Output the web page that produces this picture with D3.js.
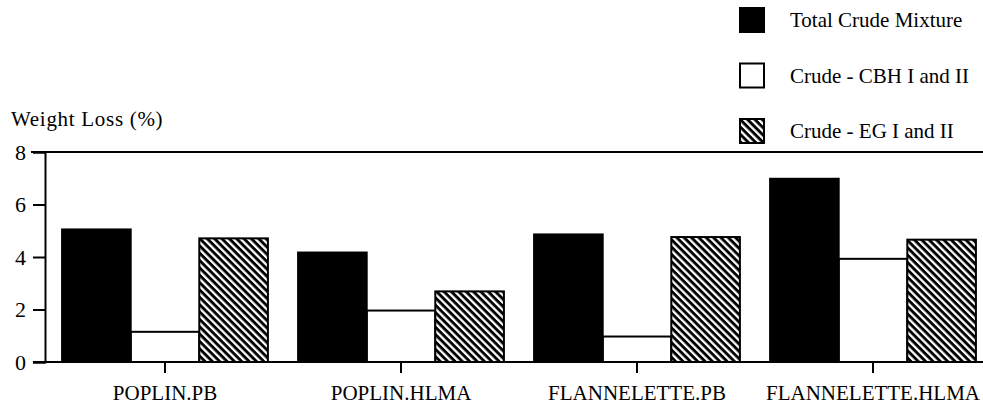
<!DOCTYPE html>
<html>
<head>
<meta charset="utf-8">
<script src="https://cdn.jsdelivr.net/npm/d3@7"></script>
<style>
  html, body { margin: 0; padding: 0; background: #fff; }
  svg { display: block; }
  text { font-family: "Liberation Serif", "Times New Roman", serif; fill: #000; }
</style>
</head>
<body>
<svg id="chart" width="983" height="405"></svg>
<script>
const categories = ["POPLIN.PB", "POPLIN.HLMA", "FLANNELETTE.PB", "FLANNELETTE.HLMA"];
const seriesNames = ["Total Crude Mixture", "Crude - CBH I and II", "Crude - EG I and II"];
const totalCrude = [5.05, 4.17, 4.86, 6.98];
const crudeCBH = [1.15, 1.96, 0.97, 3.93];
const crudeEG = [4.71, 2.69, 4.76, 4.66];
const yTicks = [0, 2, 4, 6, 8];
const yLabel = "Weight Loss (%)";

const svg = d3.select("#chart");
const W = 983;

const defs = svg.append("defs");
const pat = defs.append("pattern")
  .attr("id", "hatch")
  .attr("patternUnits", "userSpaceOnUse")
  .attr("width", 5.2).attr("height", 5.2)
  .attr("patternTransform", "rotate(45)");
pat.append("rect").attr("width", 5.2).attr("height", 5.2).attr("fill", "#fff");
pat.append("rect").attr("width", 5.2).attr("height", 2.9).attr("fill", "#000");

const x = d3.scaleBand().domain(categories).range([47, 991]).padding(0);
const xs = d3.scaleBand().domain(seriesNames).range([0, x.bandwidth()])
  .paddingInner(0).paddingOuter(0.22);
const y = d3.scaleLinear().domain([0, 8]).range([362, 152]);

const valuesBySeries = [totalCrude, crudeCBH, crudeEG];
const fills = ["#000", "#fff", "url(#hatch)"];
const data = [];
seriesNames.forEach((s, si) => {
  categories.forEach((c, ci) => {
    data.push({ s, si, c, v: valuesBySeries[si][ci] });
  });
});

// top frame line
svg.append("line")
  .attr("x1", 31).attr("x2", W).attr("y1", y(8)).attr("y2", y(8))
  .attr("stroke", "#000").attr("stroke-width", 2);

// bars: white first, then black and hatched on top
const order = [1, 0, 2];
order.forEach(si => {
  svg.append("g").selectAll("rect")
    .data(data.filter(d => d.si === si))
    .join("rect")
    .attr("x", d => x(d.c) + xs(d.s))
    .attr("y", d => y(d.v))
    .attr("width", xs.bandwidth())
    .attr("height", d => y(0) - y(d.v))
    .attr("fill", fills[si])
    .attr("stroke", "#000")
    .attr("stroke-width", 2);
});

// y axis
const yAxis = svg.append("g")
  .attr("transform", "translate(45,0)")
  .call(d3.axisLeft(y).tickValues(yTicks).tickSize(12).tickPadding(8).tickFormat(d3.format("d")));
yAxis.attr("font-family", null);
yAxis.select(".domain").attr("stroke", "#000").attr("stroke-width", 2);
yAxis.selectAll(".tick line").attr("stroke", "#000").attr("stroke-width", 2);
yAxis.selectAll(".tick text")
  .attr("font-family", "Liberation Serif").attr("font-size", 22).attr("fill", "#000")
  .attr("x", -19).attr("dy", "0.34em");

// x axis
const xAxis = svg.append("g")
  .attr("transform", `translate(0,${y(0)})`)
  .call(d3.axisBottom(x).tickSize(11).tickPadding(14).tickSizeOuter(0));
xAxis.attr("font-family", null);
xAxis.select(".domain").attr("d", `M33,0H${W}`).attr("stroke", "#000").attr("stroke-width", 2);
xAxis.selectAll(".tick line").attr("stroke", "#000").attr("stroke-width", 2);
xAxis.selectAll(".tick text")
  .attr("font-family", "Liberation Serif").attr("font-size", 21).attr("fill", "#000")
  .attr("dy", "0.71em").attr("y", 23);

// y label
svg.append("text")
  .attr("x", 11).attr("y", 126)
  .attr("font-size", 21)
  .attr("letter-spacing", 0.7)
  .text(yLabel);

// legend
const legend = svg.append("g");
const ly = d3.scalePoint().domain(seriesNames).range([20, 131]);
const lg = legend.selectAll("g").data(seriesNames).join("g")
  .attr("transform", d => `translate(739,${ly(d)})`);
lg.append("rect")
  .attr("x", 1).attr("y", -12).attr("width", 24).attr("height", 24)
  .attr("fill", (d, i) => fills[i])
  .attr("stroke", "#000").attr("stroke-width", 2);
lg.append("text")
  .attr("x", 51).attr("y", 7)
  .attr("font-size", 21)
  .text(d => d);
</script>
</body>
</html>
